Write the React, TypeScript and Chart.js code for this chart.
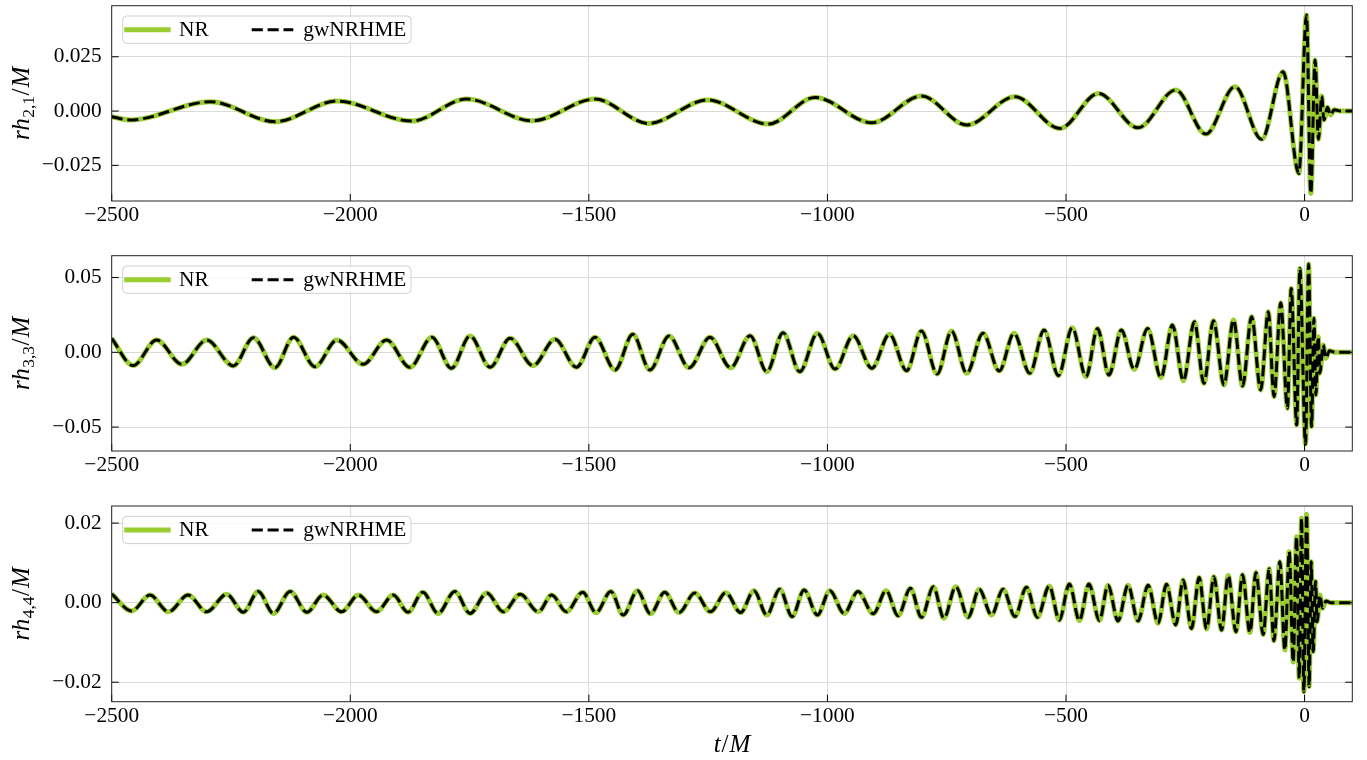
import React, { useEffect, useRef } from "react";
import { Chart, registerables } from "chart.js";

Chart.register(...registerables);

// ---------------- data ----------------
const tRange = [-2500, 100];
const tTicks = [-2500, -2000, -1500, -1000, -500, 0];
const tTickLabels = ["−2500", "−2000", "−1500", "−1000", "−500", "0"];

// (t/M, r h_{2,1}/M) extrema of the (2,1) mode
const nr21: [number, number][] = [
  [-2500, -0.0026], [-2462, -0.0041], [-2293, 0.0043], [-2157, -0.0049], [-2028, 0.0046],
  [-1871, -0.0046], [-1756, 0.0055], [-1619, -0.0045], [-1487, 0.0055], [-1375, -0.0057],
  [-1251, 0.0051], [-1124, -0.006], [-1026, 0.0063], [-907, -0.0054], [-803, 0.0069],
  [-708, -0.0064], [-607, 0.0066], [-513, -0.008], [-432, 0.0081], [-349, -0.0077],
  [-270, 0.0097], [-207, -0.0106], [-146, 0.0112], [-90, -0.013], [-45, 0.0181],
  [-12, -0.0287], [4, 0.0442], [13, -0.0379], [22, 0.0235], [29, -0.013],
  [36, 0.0069], [40.5, -0.0041], [48, 0.0017], [54.5, -0.0018], [62, 0.0006],
  [75, 0], [100, 0],
];
const model21 = nr21;

const nr33: [number, number][] = [
  [-2500, 0.0093], [-2455, -0.0089], [-2406, 0.0082], [-2353, -0.008], [-2301, 0.0082],
  [-2245, -0.0091], [-2203, 0.0098], [-2158, -0.0103], [-2119, 0.01], [-2074, -0.0096],
  [-2028, 0.0082], [-1973, -0.008], [-1924, 0.0082], [-1875, -0.01], [-1829, 0.01],
  [-1788, -0.0107], [-1749, 0.0109], [-1707, -0.01], [-1665, 0.0094], [-1617, -0.0089],
  [-1571, 0.0087], [-1526, -0.01], [-1487, 0.01], [-1445, -0.0118], [-1408, 0.012],
  [-1372, -0.0118], [-1332, 0.0109], [-1290, -0.0103], [-1246, 0.01], [-1203, -0.0103],
  [-1162, 0.0111], [-1127, -0.013], [-1093, 0.0131], [-1058, -0.013], [-1021, 0.0127],
  [-984, -0.0112], [-946, 0.0111], [-907, -0.0107], [-870, 0.012], [-834, -0.0123],
  [-803, 0.0142], [-770, -0.0145], [-740, 0.0142], [-708, -0.014], [-674, 0.0127],
  [-640, -0.0125], [-609, 0.0127], [-576, -0.014], [-546, 0.0149], [-516, -0.0156],
  [-487, 0.0164], [-458, -0.0163], [-434, 0.016], [-410, -0.0152], [-384, 0.0149],
  [-357, -0.0114], [-329, 0.016], [-301, -0.017], [-277, 0.0182], [-254, -0.019],
  [-231, 0.0204], [-211, -0.0207], [-191, 0.0211], [-169, -0.0218], [-149, 0.0216],
  [-130, -0.0225], [-111, 0.0238], [-92, -0.0252], [-76, 0.0271], [-64, -0.0297],
  [-50, 0.0331], [-36, -0.0374], [-28, 0.0427], [-16.5, -0.0486], [-10, 0.0561],
  [2, -0.0613], [8.4, 0.059], [14.7, -0.0497], [19.5, 0.0227], [23.7, -0.0285],
  [28.5, 0.0104], [32, -0.014], [39, 0.0049], [44.6, -0.004], [52, 0.001],
  [65, 0], [100, 0],
];
const model33 = nr33;

const nr44: [number, number][] = [
  [-2500, 0.0022], [-2458, -0.0021], [-2420, 0.0019], [-2381, -0.0023], [-2340, 0.0019],
  [-2301, -0.0023], [-2259, 0.0021], [-2224, -0.0024], [-2193, 0.0028], [-2161, -0.0027],
  [-2126, 0.0028], [-2091, -0.0024], [-2057, 0.0019], [-2018, -0.0023], [-1983, 0.0019],
  [-1945, -0.0023], [-1910, 0.0019], [-1879, -0.0024], [-1848, 0.0026], [-1816, -0.0027],
  [-1781, 0.0028], [-1749, -0.0027], [-1714, 0.0024], [-1679, -0.0023], [-1644, 0.0021],
  [-1606, -0.0023], [-1578, 0.0019], [-1547, -0.0023], [-1513, 0.0026], [-1485, -0.0025],
  [-1454, 0.0028], [-1428, -0.0031], [-1398, 0.003], [-1371, -0.0028], [-1341, 0.0026],
  [-1311, -0.0025], [-1278, 0.0024], [-1245, -0.0023], [-1213, 0.0025], [-1182, -0.0025],
  [-1154, 0.003], [-1127, -0.0031], [-1100, 0.0034], [-1074, -0.0035], [-1049, 0.0032],
  [-1021, -0.0031], [-995, 0.003], [-965, -0.0027], [-936, 0.0028], [-904, -0.0028],
  [-877, 0.003], [-852, -0.0033], [-826, 0.0036], [-803, -0.0037], [-778, 0.004],
  [-756, -0.0039], [-731, 0.004], [-705, -0.0037], [-682, 0.0034], [-656, -0.0031],
  [-632, 0.0034], [-607, -0.0035], [-583, 0.0039], [-560, -0.0037], [-535, 0.0042],
  [-514, -0.0044], [-493, 0.0047], [-472, -0.0045], [-452, 0.0047], [-430, -0.0045],
  [-412, 0.0044], [-391, -0.0046], [-370, 0.0044], [-349, -0.0046], [-328, 0.0044],
  [-307, -0.0052], [-289.5, 0.0046], [-270, -0.0056], [-254.5, 0.0057], [-237, -0.0065],
  [-221, 0.0063], [-205.5, -0.0066], [-190, 0.0065], [-174, -0.0069], [-160, 0.0068],
  [-144, -0.0073], [-130, 0.007], [-114.6, -0.0075], [-102, 0.0076], [-86.8, -0.008],
  [-74.2, 0.0085], [-64.3, -0.0096], [-51.8, 0.0103], [-41.3, -0.0119], [-32.2, 0.0128],
  [-23.9, -0.0149], [-16.8, 0.0166], [-11.3, -0.019], [-6.3, 0.0212], [-1.5, -0.0224],
  [4.2, 0.0222], [9.6, -0.0211], [13.8, 0.0103], [18, -0.0123], [23, 0.0053],
  [26.4, -0.0048], [32, 0.0019], [37.5, -0.0014], [45, 0.0004], [55, 0],
  [100, 0],
];
const model44 = nr44;

const y21Ticks = [-0.025, 0, 0.025];
const y21TickLabels = ["−0.025", "0.000", "0.025"];
const y33Ticks = [-0.05, 0, 0.05];
const y33TickLabels = ["−0.05", "0.00", "0.05"];
const y44Ticks = [-0.02, 0, 0.02];
const y44TickLabels = ["−0.02", "0.00", "0.02"];

const legendLabels = ["NR", "gwNRHME"];

// ---------------- styling ----------------
const W = 1367;
const AREA_LEFT = 111.7;
const AREA_RIGHT = 1352.3;
const FONT = "'Liberation Serif', 'Times New Roman', serif";
const GREEN = "#9acd32";
const TICK_FONT = 21.33;
const NR_WIDTH = 5;
const MODEL_WIDTH = 3;
const MODEL_DASH = [11.1, 4.8];

type Panel = {
  key: string;
  sub: string;
  nr: [number, number][];
  model: [number, number][];
  yTicks: number[];
  yTickLabels: string[];
  yMin: number;
  yMax: number;
  top: number;
  height: number;
  areaTop: number;
  areaBottom: number;
  xTitle: boolean;
};

const panels: Panel[] = [
  { key: "p21", sub: "2,1", nr: nr21, model: model21, yTicks: y21Ticks, yTickLabels: y21TickLabels,
    yMin: -0.0414, yMax: 0.0485, top: 0, height: 250, areaTop: 5.7, areaBottom: 201, xTitle: false },
  { key: "p33", sub: "3,3", nr: nr33, model: model33, yTicks: y33Ticks, yTickLabels: y33TickLabels,
    yMin: -0.066, yMax: 0.0646, top: 250, height: 250, areaTop: 5.7, areaBottom: 201, xTitle: false },
  { key: "p44", sub: "4,4", nr: nr44, model: model44, yTicks: y44Ticks, yTickLabels: y44TickLabels,
    yMin: -0.0249, yMax: 0.0243, top: 500, height: 260, areaTop: 6, areaBottom: 201.7, xTitle: true },
];

function drawPieces(ctx: CanvasRenderingContext2D, pieces: { t: string; f: string; dy: number; dx?: number }[], cx: number, y: number) {
  let total = 0;
  const widths = pieces.map((p) => {
    ctx.font = p.f;
    const w = ctx.measureText(p.t).width + (p.dx || 0);
    total += w;
    return w;
  });
  let x = cx - total / 2;
  pieces.forEach((p, i) => {
    ctx.font = p.f;
    ctx.fillText(p.t, x, y + p.dy);
    x += widths[i];
  });
}

function makeDecor(p: Panel) {
  return {
    id: "decor-" + p.key,
    afterDatasetsDraw(chart: any) {
      const ctx: CanvasRenderingContext2D = chart.ctx;
      const a = chart.chartArea;
      const xs = chart.scales.x;
      const ys = chart.scales.y;
      ctx.save();
      ctx.strokeStyle = "#000";
      ctx.lineWidth = 1;
      ctx.setLineDash([]);
      ctx.beginPath();
      for (const v of tTicks) {
        const px = xs.getPixelForValue(v);
        ctx.moveTo(px, a.bottom);
        ctx.lineTo(px, a.bottom - 7);
      }
      for (const v of p.yTicks) {
        const py = ys.getPixelForValue(v);
        ctx.moveTo(a.left, py);
        ctx.lineTo(a.left + 7, py);
        ctx.moveTo(a.right, py);
        ctx.lineTo(a.right - 7, py);
      }
      ctx.stroke();
      ctx.strokeStyle = "#222";
      ctx.strokeRect(a.left, a.top, a.right - a.left, a.bottom - a.top);

      // legend
      const lx = a.left + 11;
      const ly = a.top + 10.3;
      const lw = 288.3;
      const lh = 27.3;
      ctx.beginPath();
      ctx.roundRect(lx, ly, lw, lh, 4);
      ctx.fillStyle = "rgba(255,255,255,0.8)";
      ctx.fill();
      ctx.strokeStyle = "#d0d0d0";
      ctx.lineWidth = 1;
      ctx.stroke();
      const cy = ly + lh / 2;
      ctx.lineCap = "square";
      ctx.strokeStyle = GREEN;
      ctx.lineWidth = NR_WIDTH;
      ctx.beginPath();
      ctx.moveTo(lx + 4, cy);
      ctx.lineTo(lx + 45.5, cy);
      ctx.stroke();
      ctx.lineCap = "butt";
      ctx.strokeStyle = "#000";
      ctx.lineWidth = MODEL_WIDTH;
      ctx.setLineDash(MODEL_DASH);
      ctx.beginPath();
      ctx.moveTo(lx + 129, cy);
      ctx.lineTo(lx + 170.6, cy);
      ctx.stroke();
      ctx.setLineDash([]);
      ctx.fillStyle = "#000";
      ctx.font = `${TICK_FONT}px ${FONT}`;
      ctx.textBaseline = "middle";
      ctx.textAlign = "left";
      ctx.fillText(legendLabels[0], lx + 56.3, cy + 0.7);
      ctx.fillText(legendLabels[1], lx + 180.6, cy + 0.7);
      ctx.restore();
    },
    afterDraw(chart: any) {
      const ctx: CanvasRenderingContext2D = chart.ctx;
      const a = chart.chartArea;
      ctx.save();
      ctx.fillStyle = "#000";
      ctx.textAlign = "left";
      ctx.textBaseline = "alphabetic";
      ctx.translate(29, (a.top + a.bottom) / 2);
      ctx.rotate(-Math.PI / 2);
      drawPieces(
        ctx,
        [
          { t: "rh", f: `italic 25px ${FONT}`, dy: 0, dx: 0.5 },
          { t: p.sub, f: `17.5px ${FONT}`, dy: 5, dx: 0.5 },
          { t: "/", f: `25px ${FONT}`, dy: 0, dx: 1 },
          { t: "M", f: `italic 25px ${FONT}`, dy: 0 },
        ],
        0,
        0
      );
      ctx.restore();
      if (p.xTitle) {
        ctx.save();
        ctx.fillStyle = "#000";
        ctx.textAlign = "left";
        ctx.textBaseline = "alphabetic";
        drawPieces(
          ctx,
          [
            { t: "t", f: `italic 25px ${FONT}`, dy: 0, dx: 1 },
            { t: "/", f: `25px ${FONT}`, dy: 0, dx: 1 },
            { t: "M", f: `italic 25px ${FONT}`, dy: 0 },
          ],
          (a.left + a.right) / 2,
          252
        );
        ctx.restore();
      }
    },
  };
}

function PanelChart({ p }: { p: Panel }) {
  const ref = useRef<HTMLCanvasElement | null>(null);
  useEffect(() => {
    if (!ref.current) return;
    const toPts = (arr: [number, number][]) => arr.map(([x, y]) => ({ x, y }));
    const chart = new Chart(ref.current, {
      type: "line",
      data: {
        datasets: [
          {
            label: legendLabels[1],
            data: toPts(p.model),
            borderColor: "#000",
            borderWidth: MODEL_WIDTH,
            borderDash: MODEL_DASH,
            borderJoinStyle: "round",
            pointRadius: 0,
            fill: false,
            cubicInterpolationMode: "monotone",
            order: 0,
          },
          {
            label: legendLabels[0],
            data: toPts(p.nr),
            borderColor: GREEN,
            borderWidth: NR_WIDTH,
            borderJoinStyle: "round",
            pointRadius: 0,
            fill: false,
            cubicInterpolationMode: "monotone",
            order: 1,
          },
        ],
      } as any,
      options: {
        animation: false,
        responsive: false,
        maintainAspectRatio: false,
        devicePixelRatio: 1,
        events: [],
        layout: { padding: { left: 0, right: W - AREA_RIGHT, top: p.areaTop, bottom: 0 } },
        plugins: { legend: { display: false }, tooltip: { enabled: false } },
        scales: {
          x: {
            type: "linear",
            min: tRange[0],
            max: tRange[1],
            border: { display: false },
            grid: { color: "#dadada", lineWidth: 1, drawTicks: false },
            ticks: {
              padding: 2,
              color: "#000",
              maxRotation: 0,
              autoSkip: false,
              font: { family: FONT, size: TICK_FONT },
              callback: (v: any) => tTickLabels[tTicks.indexOf(Number(v))] ?? "",
            },
            afterBuildTicks: (s: any) => {
              s.ticks = tTicks.map((v) => ({ value: v }));
            },
            afterFit: (s: any) => {
              s.height = p.height - p.areaBottom;
              s.paddingLeft = 0;
              s.paddingRight = 0;
              s.paddingTop = 0;
              s.paddingBottom = 0;
            },
          },
          y: {
            type: "linear",
            min: p.yMin,
            max: p.yMax,
            border: { display: false },
            grid: { color: "#dadada", lineWidth: 1, drawTicks: false },
            ticks: {
              padding: 10,
              color: "#000",
              font: { family: FONT, size: TICK_FONT },
              callback: (v: any) => {
                const i = p.yTicks.findIndex((t) => Math.abs(t - Number(v)) < 1e-9);
                return i >= 0 ? p.yTickLabels[i] : "";
              },
            },
            afterBuildTicks: (s: any) => {
              s.ticks = p.yTicks.map((v) => ({ value: v }));
            },
            afterFit: (s: any) => {
              s.width = AREA_LEFT;
              s.paddingTop = 0;
              s.paddingBottom = 0;
              s.paddingLeft = 0;
              s.paddingRight = 0;
            },
          },
        },
      } as any,
      plugins: [makeDecor(p)],
    });
    return () => chart.destroy();
  }, [p]);
  return (
    <canvas
      ref={ref}
      width={W}
      height={p.height}
      style={{ position: "absolute", left: 0, top: p.top, width: W, height: p.height, display: "block" }}
    />
  );
}

export default function App() {
  return (
    <div style={{ position: "absolute", left: 0, top: 0, width: W, height: 760, background: "#fff", overflow: "hidden" }}>
      {panels.map((p) => (
        <PanelChart key={p.key} p={p} />
      ))}
    </div>
  );
}
